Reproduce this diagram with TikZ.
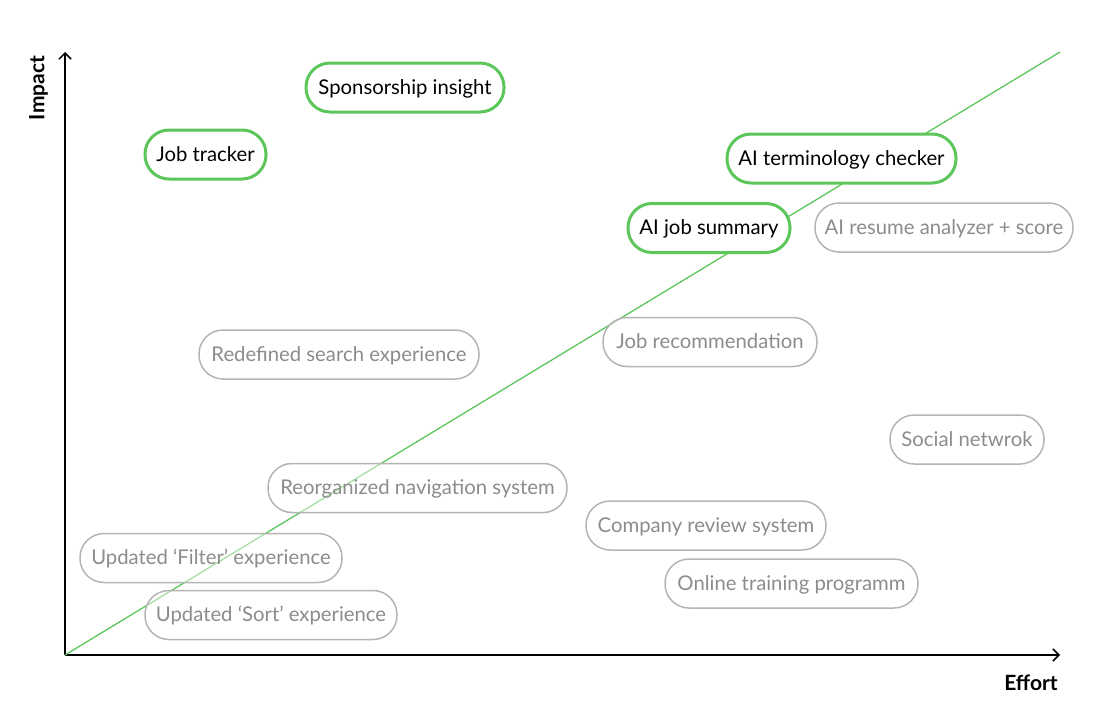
\documentclass[tikz,border=0pt]{standalone}
\usepackage{fontspec}
\setmainfont{Lato}
\usetikzlibrary{arrows.meta}
\definecolor{hgreen}{HTML}{5CC65A}
\definecolor{lgrey}{HTML}{B4B4B4}
\definecolor{tgrey}{HTML}{8C8C8C}
\tikzset{
  item/.style={draw, rectangle, rounded corners=24pt, minimum height=49pt, inner xsep=0pt, text height=15pt, text depth=2pt, font=\fontsize{20.3}{22}\selectfont},
  hot/.style={item, draw=hgreen, line width=3pt, fill=white, text=black},
  cold/.style={item, draw=lgrey, line width=1.5pt, fill=white, fill opacity=0.45, text opacity=1, text=tgrey},
  axis/.style={line width=1.5pt, -{Straight Barb[length=6pt,width=12pt]}},
  axlabel/.style={font=\bfseries\fontsize{21}{23}\selectfont}
}
\begin{document}
\begin{tikzpicture}[x=1pt,y=-1pt]
\useasboundingbox (0,0) rectangle (1120,704);
\coordinate (O) at (65,655);
\coordinate (Ytop) at (65,52);
\coordinate (Xend) at (1060,655);
\coordinate (Lend) at (1060,52);
\draw[axis] (O) -- (Ytop);
\draw[axis] (O) -- (Xend);
\node[axlabel, rotate=90] (imp) at (38.5,88) {Impact};
\node[axlabel] (eff) at (1031,683) {Effort};
\draw[hgreen, line width=1.3pt] (O) -- (Lend);
% grey items
\node[cold, minimum width=258pt] (n5) at (944,227.5) {AI resume analyzer + score};
\node[cold, minimum width=280pt] (n6) at (339,354.5) {Redefined search experience};
\node[cold, minimum width=214pt] (n7) at (710,342) {Job recommendation};
\node[cold, minimum width=154pt] (n8) at (967,439.5) {Social netwrok};
\node[cold, minimum width=299pt] (n9) at (417.5,488) {Reorganized navigation system};
\node[cold, minimum width=240pt] (n10) at (706,525.5) {Company review system};
\node[cold, minimum width=262pt] (n11) at (211,558) {Updated ‘Filter’ experience};
\node[cold, minimum width=253pt] (n12) at (791.5,583.5) {Online training programm};
\node[cold, minimum width=252pt] (n13) at (271,615) {Updated ‘Sort’ experience};
% green items
\node[hot, minimum width=198pt] (n1) at (405,87.5) {Sponsorship insight};
\node[hot, minimum width=121pt] (n2) at (205.5,154.5) {Job tracker};
\node[hot, minimum width=229pt] (n3) at (841.5,158.5) {AI terminology checker};
\node[hot, minimum width=162pt] (n4) at (709,228) {AI job summary};
\end{tikzpicture}
\end{document}
